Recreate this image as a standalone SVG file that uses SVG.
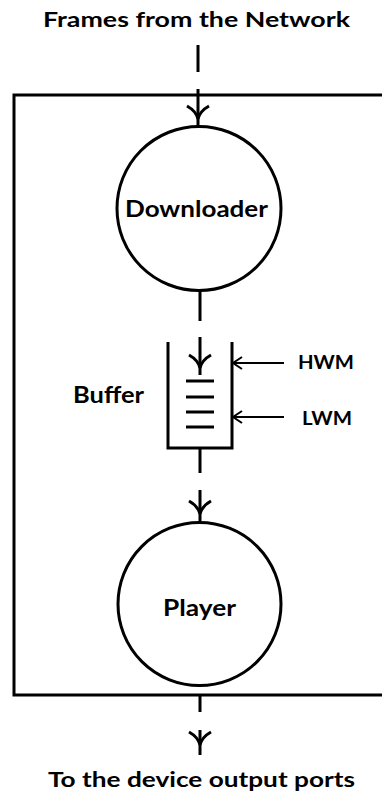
<svg xmlns="http://www.w3.org/2000/svg" width="382" height="798" viewBox="0 0 382 798">
<style>
.ln{fill:none;stroke:#000;stroke-width:3;stroke-linecap:butt}
.thin{fill:none;stroke:#000;stroke-width:2}
.nd{fill:#fff;stroke:#000;stroke-width:3}
.t{font-family:Lato,"Open Sans","Liberation Sans",sans-serif;font-weight:bold;fill:#000}
</style>
<defs>
<path id="ah" d="M-11,-20 Q-2,-15 0,-7 M11,-20 Q2,-15 0,-7" class="ln"/>
<path id="ahl" d="M9,-6 Q3,-2 0,0 Q3,2 9,6" class="thin"/>
</defs>
<rect width="382" height="798" fill="#fff"/>
<g id="frame">
<path class="ln" d="M384,95 H14 V695 H384"/>
</g>
<g id="title-top">
<text class="t" x="43" y="27" font-size="20.5" textLength="307" lengthAdjust="spacingAndGlyphs">Frames from the Network</text>
</g>
<g id="downloader">
<circle class="nd" cx="199" cy="208.5" r="82"/>
<text class="t" x="125" y="217" font-size="23" textLength="143" lengthAdjust="spacingAndGlyphs">Downloader</text>
</g>
<g id="buffer">
<path class="ln" d="M168,342 V448 H232 V342"/>
<path class="ln" d="M186,381 H214 M186,397 H214 M186,412 H214 M186,427 H214"/>
<text class="t" x="73" y="403" font-size="23" textLength="71" lengthAdjust="spacingAndGlyphs">Buffer</text>
</g>
<g id="hwm">
<text class="t" x="298" y="369" font-size="18.5" textLength="56" lengthAdjust="spacingAndGlyphs">HWM</text>
</g>
<g id="lwm">
<text class="t" x="302" y="425" font-size="18.5" textLength="50" lengthAdjust="spacingAndGlyphs">LWM</text>
</g>
<g id="player">
<circle class="nd" cx="199.5" cy="604" r="81.5"/>
<text class="t" x="163" y="616" font-size="23" textLength="73" lengthAdjust="spacingAndGlyphs">Player</text>
</g>
<g id="title-bottom">
<text class="t" x="48" y="787" font-size="20.5" textLength="307" lengthAdjust="spacingAndGlyphs">To the device output ports</text>
</g>
<g id="connectors">
<path class="ln" d="M198,45 V72 M198,89 V126"/>
<use href="#ah" x="198" y="126"/>
<path class="ln" d="M200,291 V321 M200,337 V375"/>
<use href="#ah" x="200" y="375"/>
<path class="ln" d="M200,448 V473 M200,490 V521"/>
<use href="#ah" x="200" y="521"/>
<path class="ln" d="M200,695 V712 M200,730 V755"/>
<use href="#ah" x="200" y="752"/>
<path class="thin" d="M284,363 H233"/>
<use href="#ahl" x="233" y="363"/>
<path class="thin" d="M284,417 H233"/>
<use href="#ahl" x="233" y="417"/>
</g>
</svg>
